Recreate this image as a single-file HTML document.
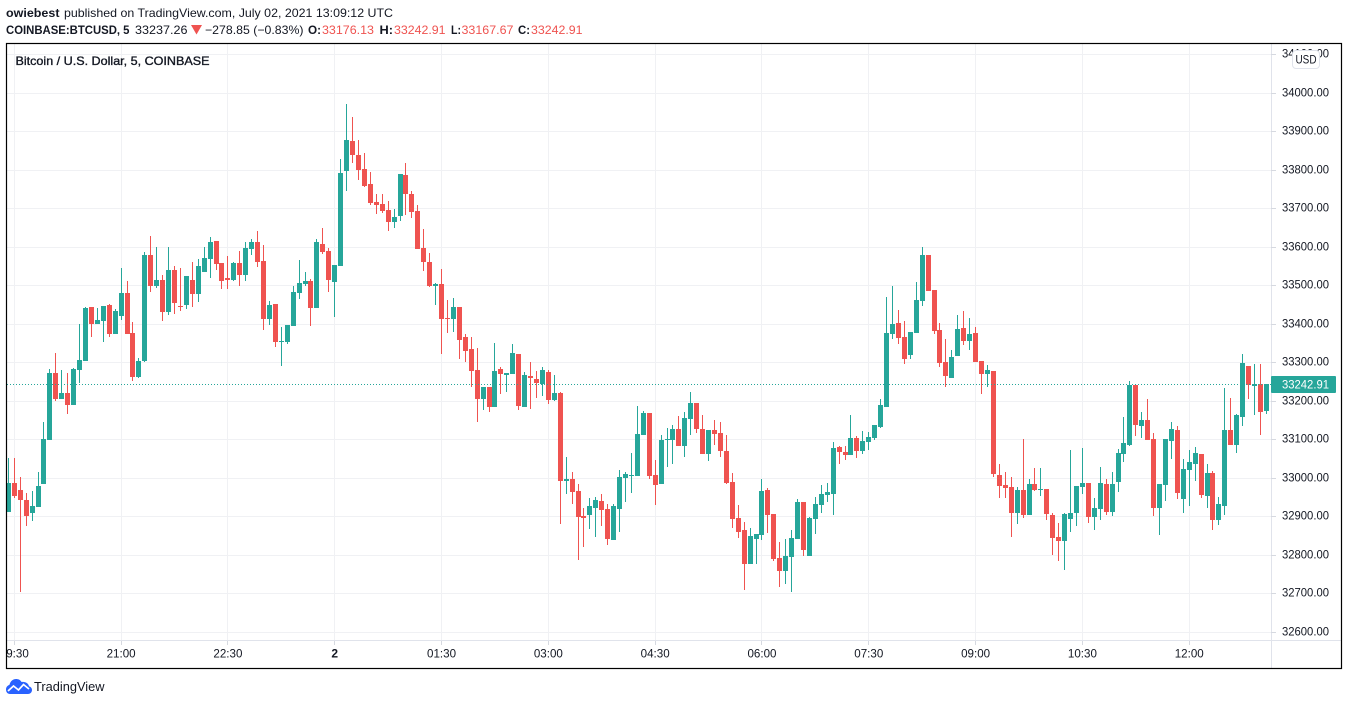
<!DOCTYPE html>
<html>
<head>
<meta charset="utf-8">
<title>BTCUSD chart</title>
<style>
html,body{margin:0;padding:0;background:#fff;width:1348px;height:705px;overflow:hidden}
svg{display:block;font-family:"Liberation Sans",sans-serif}
text{fill:#131722;font-size:12px}
.b{font-weight:bold}
.r{fill:#ef5350}
</style>
</head>
<body>
<svg id="chart" width="1348" height="705" viewBox="0 0 1348 705" xmlns="http://www.w3.org/2000/svg">
<defs><clipPath id="plot"><rect x="7" y="44" width="1264" height="596"/></clipPath><clipPath id="tclip"><rect x="7" y="641" width="1264" height="27"/></clipPath></defs>
<g>
<text class="b" x="6" y="17" textLength="53.5" lengthAdjust="spacingAndGlyphs">owiebest</text>
<text x="64" y="17" textLength="329" lengthAdjust="spacingAndGlyphs">published on TradingView.com, July 02, 2021 13:09:12 UTC</text>
<text class="b" x="6" y="34" textLength="123.5" lengthAdjust="spacingAndGlyphs">COINBASE:BTCUSD, 5</text>
<text x="135" y="34" textLength="52.5" lengthAdjust="spacingAndGlyphs">33237.26</text>
<polygon points="191,25 202,25 196.5,34.5" fill="#ef5350"/>
<text x="205" y="34" textLength="98.5" lengthAdjust="spacingAndGlyphs">−278.85 (−0.83%)</text>
<text class="b" x="308" y="34" textLength="13" lengthAdjust="spacingAndGlyphs">O:</text>
<text class="r" x="322" y="34" textLength="52" lengthAdjust="spacingAndGlyphs">33176.13</text>
<text class="b" x="379.5" y="34" textLength="13.5" lengthAdjust="spacingAndGlyphs">H:</text>
<text class="r" x="394" y="34" textLength="51.5" lengthAdjust="spacingAndGlyphs">33242.91</text>
<text class="b" x="451" y="34" textLength="10" lengthAdjust="spacingAndGlyphs">L:</text>
<text class="r" x="461.5" y="34" textLength="52" lengthAdjust="spacingAndGlyphs">33167.67</text>
<text class="b" x="518" y="34" textLength="12" lengthAdjust="spacingAndGlyphs">C:</text>
<text class="r" x="531" y="34" textLength="51.5" lengthAdjust="spacingAndGlyphs">33242.91</text>
</g>
<g id="gridV"></g>
<g id="gridH"></g>
<g id="candles" clip-path="url(#plot)"></g>
<line id="lastLine" x1="7" x2="1271" stroke="#26a69a" stroke-width="1" stroke-dasharray="1 2"/>
<line x1="1271.5" x2="1271.5" y1="44" y2="668" stroke="#e0e3eb"/>
<line x1="7" x2="1342" y1="640.5" y2="640.5" stroke="#e0e3eb"/>
<g id="priceAxis"></g>
<g id="timeAxis" clip-path="url(#tclip)"></g>
<rect id="lastBox" x="1271" width="65" height="17" rx="1" fill="#26a69a"/>
<text id="lastText" x="1282" textLength="47" lengthAdjust="spacingAndGlyphs" style="fill:#fff"></text>
<rect x="6.5" y="43.5" width="1335" height="625" fill="none" stroke="#000" stroke-width="1.2"/>
<text x="15.5" y="65" class="b" textLength="194" lengthAdjust="spacingAndGlyphs" style="font-weight:normal;stroke:#131722;stroke-width:.35">Bitcoin / U.S. Dollar, 5, COINBASE</text>
<g>
<rect x="1292.5" y="50.5" width="27" height="18" rx="3.5" fill="#fff" stroke="#e0e3eb"/>
<text x="1295.5" y="63.5" textLength="21" lengthAdjust="spacingAndGlyphs">USD</text>
</g>
<g>
<path d="M6 689.5c0-2.5 1.5-4 3.500-4.800C10.500 681 13 679 16 679c2.500 0 4.500 1 5.500 3 3.500-.8 7 1.200 7.500 4.300 2 .7 3 2 3 3.700 0 2.500-2 4-4 4H10c-2.500 0-4-2-4-4.500z" fill="#2962ff"/>
<path d="M8 691l5.500-5 5 4 5-5.500 5.500 4.500" fill="none" stroke="#fff" stroke-width="1.7"/>
<text x="34" y="691" textLength="70.5" lengthAdjust="spacingAndGlyphs" style="font-size:13px">TradingView</text>
</g>
</svg>
<script>
const priceTicks = [32600,32700,32800,32900,33000,33100,33200,33300,33400,33500,33600,33700,33800,33900,34000,34100];
const timeLabels = ["19:30","21:00","22:30","2","01:30","03:00","04:30","06:00","07:30","09:00","10:30","12:00"];
const timeBars = [1,19,37,55,73,91,109,127,145,163,181,199];
const opens = [32911,32986,32968,32942,32908,32923,32984,33098,33271,33204,
33220,33188,33279,33303,33443,33399,33406,33448,33373,33420,
33479,33375,33261,33303,33578,33498,33513,33430,33539,33445,
33448,33513,33477,33534,33568,33615,33557,33518,33513,33557,
33526,33594,33612,33562,33412,33451,33352,33352,33394,33479,
33503,33510,33440,33607,33588,33508,33549,33796,33874,33838,
33801,33762,33716,33711,33695,33664,33679,33786,33736,33693,
33596,33560,33498,33503,33414,33412,33443,33365,33334,33279,
33204,33235,33183,33282,33266,33269,33321,33183,33264,33256,
33243,33274,33201,33220,32991,32996,32965,32900,32903,32921,
32939,32918,32838,32918,33000,33004,33004,33111,33168,33007,
32984,33098,33098,33126,33082,33152,33194,33126,33061,33124,
33116,33069,32989,32895,32864,32775,32840,32851,32968,32905,
32791,32757,32794,32840,32936,32796,32892,32929,32955,32957,
33079,33066,33059,33103,33069,33092,33103,33131,33183,33373,
33401,33365,33318,33375,33458,33578,33487,33383,33300,33258,
33316,33388,33355,33375,33303,33269,33277,33007,32981,32975,
32908,32968,32903,32984,32968,32971,32903,32846,32835,32892,
32908,32976,32986,32898,32918,32984,32911,32989,33061,33085,
33240,33134,33149,33100,32921,32981,33095,33124,32944,33020,
33035,33061,32952,33012,32890,32926,33124,33085,33157,33290,
33238,33243,33173];
const highs = [33051,33051,33002,32960,32965,33015,33144,33282,33323,33279,
33271,33285,33399,33443,33443,33440,33445,33451,33438,33544,
33510,33404,33311,33586,33627,33599,33526,33599,33549,33544,
33523,33560,33568,33599,33625,33615,33557,33575,33560,33588,
33612,33620,33640,33604,33458,33451,33391,33396,33498,33565,
33534,33516,33620,33648,33596,33552,33827,33970,33936,33877,
33843,33794,33736,33736,33718,33698,33788,33817,33744,33708,
33645,33583,33505,33542,33461,33466,33443,33373,33365,33337,
33235,33235,33350,33287,33271,33347,33321,33274,33300,33277,
33287,33279,33266,33222,33053,33015,32984,32921,32947,32950,
32957,32931,32931,33020,33015,33064,33186,33173,33168,33046,
33111,33129,33137,33160,33170,33222,33194,33163,33124,33149,
33144,33111,33012,32929,32885,32869,32853,32996,32973,32905,
32833,32840,32864,32945,32936,32898,32950,32981,32986,33092,
33082,33082,33163,33108,33121,33118,33137,33204,33469,33498,
33435,33406,33378,33508,33599,33578,33487,33401,33360,33331,
33422,33433,33414,33391,33303,33292,33277,33035,33015,33002,
32975,33100,32996,33025,33025,32971,32908,32882,32908,33072,
32978,33077,32986,32947,33028,32996,33015,33074,33157,33251,
33240,33170,33204,33116,32984,33100,33144,33134,33048,33072,
33079,33061,33035,33017,32950,33233,33207,33165,33321,33290,
33295,33295,33243];
const lows = [32911,32947,32703,32874,32887,32923,32984,33098,33199,33204,
33165,33188,33246,33303,33365,33399,33352,33365,33373,33409,
33373,33251,33258,33300,33482,33492,33406,33422,33425,33433,
33438,33443,33456,33534,33518,33539,33490,33490,33510,33498,
33510,33578,33547,33383,33396,33339,33290,33347,33394,33464,
33498,33394,33440,33581,33482,33417,33549,33744,33817,33773,
33755,33708,33685,33687,33640,33648,33666,33682,33674,33594,
33537,33495,33448,33321,33375,33378,33308,33300,33235,33144,
33175,33170,33183,33217,33222,33269,33175,33183,33178,33207,
33212,33191,33199,32880,32957,32931,32786,32820,32866,32846,
32874,32825,32838,32858,32936,32960,33004,33111,32996,32929,
32984,33028,33035,33082,33053,33111,33116,33061,33043,33085,
33053,32984,32869,32843,32708,32775,32775,32838,32856,32783,
32716,32724,32703,32840,32796,32796,32853,32908,32937,32903,
33035,33046,33059,33051,33061,33072,33098,33129,33183,33360,
33347,33295,33308,33375,33445,33484,33373,33287,33235,33258,
33316,33344,33331,33300,33217,33235,33002,32947,32947,32846,
32880,32895,32903,32965,32952,32890,32799,32783,32760,32858,
32874,32957,32882,32864,32890,32903,32900,32963,33040,33082,
33108,33103,33098,32900,32851,32939,33048,32944,32908,32926,
32991,32947,32921,32864,32877,32903,33085,33064,33134,33204,
33163,33111,33165];
const closes = [32986,32952,32942,32900,32926,32978,33100,33271,33204,33220,
33188,33282,33305,33440,33399,33409,33445,33373,33433,33479,
33373,33261,33303,33578,33498,33513,33430,33539,33453,33443,
33523,33477,33549,33570,33612,33555,33510,33513,33557,33526,
33596,33612,33560,33412,33448,33352,33355,33396,33482,33505,
33510,33440,33612,33586,33513,33552,33791,33877,33838,33799,
33757,33713,33708,33693,33664,33677,33788,33736,33690,33594,
33560,33498,33503,33412,33412,33443,33357,33329,33277,33204,
33235,33183,33277,33269,33271,33323,33186,33266,33258,33246,
33279,33201,33220,32991,32996,32963,32898,32895,32926,32942,
32916,32840,32926,33002,33010,33007,33113,33168,33004,32981,
33098,33100,33126,33082,33155,33194,33126,33061,33124,33113,
33069,32986,32892,32858,32775,32848,32853,32965,32903,32788,
32757,32796,32843,32936,32812,32895,32931,32957,32963,33077,
33066,33059,33103,33069,33095,33105,33137,33188,33375,33399,
33362,33308,33378,33461,33578,33484,33381,33298,33264,33313,
33386,33355,33373,33300,33269,33279,33010,32978,32973,32908,
32968,32903,32984,32968,32971,32905,32843,32835,32905,32908,
32978,32986,32898,32921,32986,32911,32984,33064,33090,33240,
33137,33149,33098,32921,32984,33100,33126,32960,33022,33040,
33064,32955,33012,32890,32931,33124,33085,33163,33298,33240,
33243,33170,33242.91];

const NS = "http://www.w3.org/2000/svg";
function xOf(i){ return 8.36 + 5.934 * i; }
function yOf(p){ return Math.round(477.5 - (p - 33000) * 0.385); }
function make(tag, attrs, parent){
  const el = document.createElementNS(NS, tag);
  for (const k in attrs) el.setAttribute(k, attrs[k]);
  parent.appendChild(el);
  return el;
}
const gridV = document.getElementById("gridV");
const gridH = document.getElementById("gridH");
const candleLayer = document.getElementById("candles");
const priceAxis = document.getElementById("priceAxis");
const timeAxis = document.getElementById("timeAxis");

priceTicks.forEach(function(p){
  const y = yOf(p);
  const g = make("line", {x1:7, x2:1271, y1:y+0.5, y2:y+0.5, stroke:"#f0f1f4"}, gridH);
  
  
  const t = make("line", {x1:1271, x2:1276, y1:y+0.5, y2:y+0.5, stroke:"#d6d9e0"}, priceAxis);
  
  
  const l = make("text", {x:1282, y:y+3.5, textLength:47, lengthAdjust:"spacingAndGlyphs"}, priceAxis);
  l.textContent = p.toFixed(2);
  
  
});

timeBars.forEach(function(b, i){
  const x = Math.floor(xOf(b)) + 0.5;
  const g = make("line", {x1:x, x2:x, y1:44, y2:640, stroke:"#f0f1f4"}, gridV);
  
  
  const t = make("line", {x1:x, x2:x, y1:640, y2:645, stroke:"#d6d9e0"}, timeAxis);
  
  
  const label = timeLabels[i];
  const l = make("text", {x:xOf(b), y:657.5, "text-anchor":"middle"}, timeAxis);
  if (label.length > 1) {
    l.setAttribute("textLength", 29);
    l.setAttribute("lengthAdjust", "spacingAndGlyphs");
  } else {
    l.setAttribute("font-weight", "bold");
  }
  l.textContent = label;
  
  
});

opens.forEach(function(o, i){
  const c = closes[i];
  const color = c >= o ? "#26a69a" : "#ef5350";
  const left = Math.round(xOf(i) - 2.5);
  const yHigh = yOf(highs[i]);
  const yLow = yOf(lows[i]);
  const yTop = yOf(Math.max(o, c));
  const yBot = yOf(Math.min(o, c));
  const g = make("g", {}, candleLayer);
  
  
  const w = make("rect", {x:left+2, y:yHigh, width:1, height:Math.max(1, yLow-yHigh), fill:color}, g);
  
  
  const r = make("rect", {x:left, y:yTop, width:5, height:Math.max(1, yBot-yTop), fill:color}, g);
  
  
});

const last = closes[closes.length - 1];
const lastY = yOf(last);
const lastLine = document.getElementById("lastLine");
lastLine.setAttribute("y1", lastY + 0.5);
lastLine.setAttribute("y2", lastY + 0.5);
document.getElementById("lastBox").setAttribute("y", lastY - 8);
const lastText = document.getElementById("lastText");
lastText.setAttribute("y", lastY + 4.5);
lastText.textContent = last.toFixed(2);
</script>
</body>
</html>
